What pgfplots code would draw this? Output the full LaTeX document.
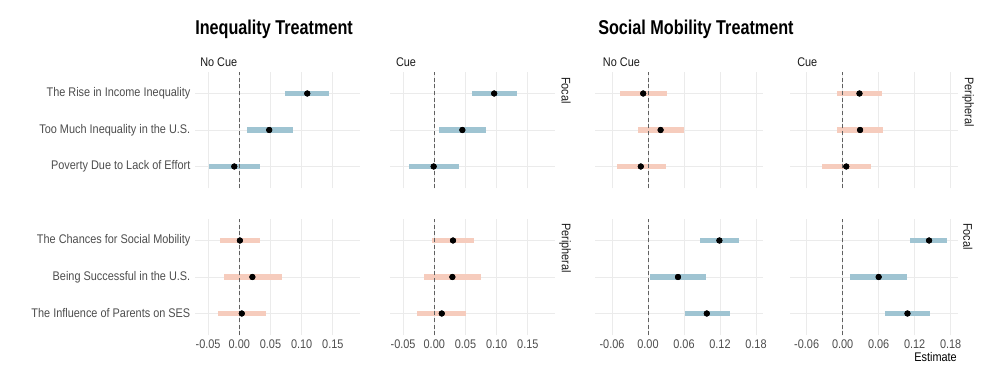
\documentclass[border=0pt]{standalone}
\usepackage{fontspec}
\setmainfont{Liberation Sans}[FakeStretch=0.87]
\newfontfamily\titlefont{Liberation Sans}[FakeStretch=0.81]
\usepackage{pgfplots}
\pgfplotsset{compat=1.18}
\usepackage{pgfplotstable}
\definecolor{barblue}{HTML}{9FC4D2}
\definecolor{barpink}{HTML}{F6CCBD}
\definecolor{gridc}{HTML}{EBEBEB}
\definecolor{txtg}{HTML}{4D4D4D}
\definecolor{striptxt}{HTML}{1A1A1A}

% Inequality items (top row), Social mobility items (bottom row)
% columns: y (3 = top item), estimate, lower, upper
\pgfplotstableread{
y est lo hi
3 0.109 0.074 0.144
2 0.048 0.012 0.086
1 -0.008 -0.049 0.034
}\tIneqNoCueTop
\pgfplotstableread{
y est lo hi
3 0.096 0.061 0.132
2 0.045 0.0075 0.083
1 -0.001 -0.041 0.039
}\tIneqCueTop
\pgfplotstableread{
y est lo hi
3 0.001 -0.031 0.034
2 0.021 -0.025 0.068
1 0.004 -0.034 0.043
}\tIneqNoCueBot
\pgfplotstableread{
y est lo hi
3 0.030 -0.003 0.064
2 0.029 -0.016 0.075
1 0.012 -0.027 0.051
}\tIneqCueBot
\pgfplotstableread{
y est lo hi
3 -0.008 -0.047 0.031
2 0.021 -0.016 0.060
1 -0.012 -0.052 0.030
}\tSocNoCueTop
\pgfplotstableread{
y est lo hi
3 0.028 -0.009 0.065
2 0.029 -0.009 0.068
1 0.006 -0.034 0.047
}\tSocCueTop
\pgfplotstableread{
y est lo hi
3 0.119 0.087 0.151
2 0.050 0.003 0.097
1 0.098 0.061 0.136
}\tSocNoCueBot
\pgfplotstableread{
y est lo hi
3 0.144 0.113 0.174
2 0.060 0.012 0.108
1 0.108 0.071 0.146
}\tSocCueBot

\pgfplotsset{
 panel/.style={scale only axis, height=87.6pt, ymin=0.4, ymax=3.6,
   ytick={1,2,3}, yticklabels={},
   axis line style={draw=none}, major tick length=0pt,
   xmajorgrids, ymajorgrids, grid style={gridc, line width=0.6pt},
   tick label style={font=\fontsize{9.4}{11}\selectfont, text=txtg},
   clip=false},
 ineq/.style={panel, width=123.5pt, xmin=-0.071, xmax=0.193,
   xtick={-0.05,0,0.05,0.1,0.15}},
 soc/.style={panel, width=126pt, xmin=-0.088, xmax=0.192,
   xtick={-0.06,0,0.06,0.12,0.18}},
 toprow/.style={xticklabels={}},
 botI/.style={xticklabels={-0.05,0.00,0.05,0.10,0.15}},
 botS/.style={xticklabels={-0.06,0.00,0.06,0.12,0.18}},
}

\newcommand{\panelplots}[2]{%
 \addplot[only marks, mark=none, error bars/.cd, x dir=both, x explicit,
   error mark=none, error bar style={draw=#2, line width=4pt}]
   table[x=est, y=y, x error plus expr=\thisrow{hi}-\thisrow{est},
         x error minus expr=\thisrow{est}-\thisrow{lo}] {#1};
 \addplot[draw=gray!75!black, densely dashed, line width=0.6pt, mark=none]
   coordinates {(0,0.4) (0,3.6)};
 \addplot[only marks, mark=*, mark size=2.1pt, black] table[x=est, y=y] {#1};
}

\begin{document}
\begin{tikzpicture}[font=\fontsize{9.4}{11}\selectfont]
\useasboundingbox (0,0) rectangle (750pt,288.75pt);

% ---------- top row ----------
\begin{axis}[ineq, toprow, at={(146.25pt,147.45pt)}, anchor=south west,
  yticklabels={Poverty Due to Lack of Effort, Too Much Inequality in the U.S., The Rise in Income Inequality}]
\panelplots{\tIneqNoCueTop}{barblue}
\end{axis}
\begin{axis}[ineq, toprow, at={(292.5pt,147.45pt)}, anchor=south west]
\panelplots{\tIneqCueTop}{barblue}
\end{axis}
\begin{axis}[soc, toprow, at={(446.4pt,147.45pt)}, anchor=south west]
\panelplots{\tSocNoCueTop}{barpink}
\end{axis}
\begin{axis}[soc, toprow, at={(592.4pt,147.45pt)}, anchor=south west]
\panelplots{\tSocCueTop}{barpink}
\end{axis}

% ---------- bottom row ----------
\begin{axis}[ineq, botI, at={(146.25pt,37.2pt)}, anchor=south west,
  yticklabels={The Influence of Parents on SES, Being Successful in the U.S., The Chances for Social Mobility}]
\panelplots{\tIneqNoCueBot}{barpink}
\end{axis}
\begin{axis}[ineq, botI, at={(292.5pt,37.2pt)}, anchor=south west]
\panelplots{\tIneqCueBot}{barpink}
\end{axis}
\begin{axis}[soc, botS, at={(446.4pt,37.2pt)}, anchor=south west]
\panelplots{\tSocNoCueBot}{barblue}
\end{axis}
\begin{axis}[soc, botS, at={(592.4pt,37.2pt)}, anchor=south west]
\panelplots{\tSocCueBot}{barblue}
\end{axis}

% ---------- titles and strips ----------
\node[anchor=west, inner sep=0, font=\titlefont\bfseries\fontsize{15}{18}\selectfont] at (146.25pt,267pt) {Inequality Treatment};
\node[anchor=west, inner sep=0, font=\titlefont\bfseries\fontsize{15}{18}\selectfont] at (448.5pt,267pt) {Social Mobility Treatment};

\node[anchor=west, inner sep=0, text=striptxt] at (150pt,242.25pt) {No Cue};
\node[anchor=west, inner sep=0, text=striptxt] at (296.8pt,242.25pt) {Cue};
\node[anchor=west, inner sep=0, text=striptxt] at (452pt,242.25pt) {No Cue};
\node[anchor=west, inner sep=0, text=striptxt] at (597.75pt,242.25pt) {Cue};

\node[rotate=-90, anchor=west, inner sep=0, text=striptxt] at (424.5pt,231pt) {Focal};
\node[rotate=-90, anchor=west, inner sep=0, text=striptxt] at (423.75pt,121.5pt) {Peripheral};
\node[rotate=-90, anchor=west, inner sep=0, text=striptxt] at (726pt,231pt) {Peripheral};
\node[rotate=-90, anchor=west, inner sep=0, text=striptxt] at (725.8pt,121.5pt) {Focal};

\node[anchor=east, inner sep=0, text=black] at (717.75pt,21.2pt) {Estimate};
\end{tikzpicture}
\end{document}
